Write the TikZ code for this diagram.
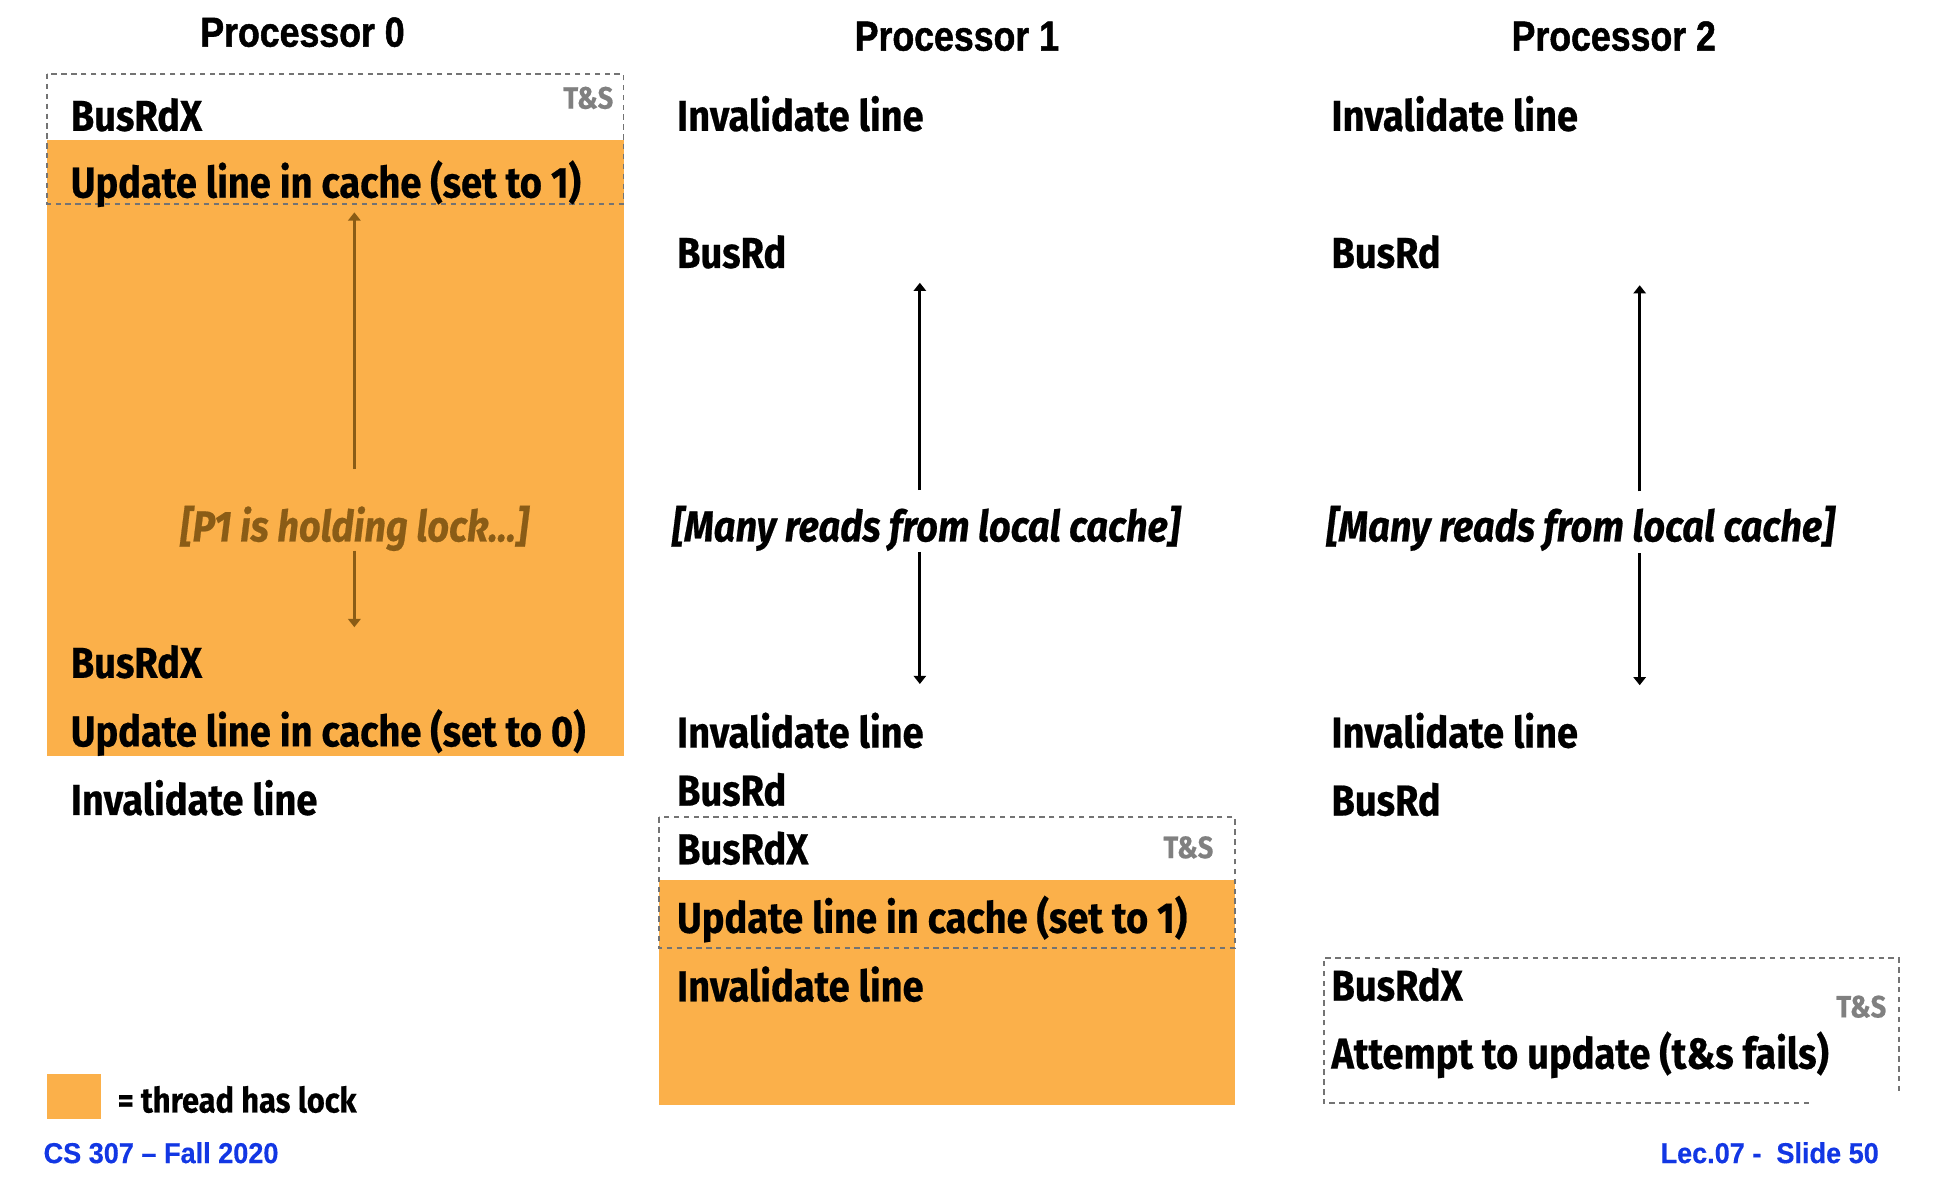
\documentclass[tikz,border=0pt]{standalone}
\usepackage{fontspec}
\setmainfont{Fira Sans}[FakeStretch=0.88, FakeBold=0.5]
\newfontfamily\titlefont{Liberation Sans}[FakeStretch=0.85, FakeBold=1.2]
\newfontfamily\footfont{Liberation Sans}[FakeStretch=0.94, FakeBold=0.4]
\usetikzlibrary{arrows.meta}
\definecolor{lockorange}{RGB}{251,176,74}
\definecolor{lockbrown}{RGB}{138,92,22}
\definecolor{tsgray}{RGB}{128,128,128}
\definecolor{boxgray}{RGB}{115,115,115}
\definecolor{footblue}{RGB}{18,55,228}
\tikzset{
  lbl/.style={anchor=base west, inner sep=0pt, font=\fontsize{21}{21}\selectfont\bfseries},
  itl/.style={anchor=base, inner sep=0pt, font=\fontsize{21}{21}\selectfont\bfseries\itshape},
  tslbl/.style={anchor=base east, inner sep=0pt, text=tsgray, font=\fontsize{15}{15}\selectfont\bfseries},
  ttl/.style={anchor=base, inner sep=0pt, font=\titlefont\fontsize{20.4}{20.4}\selectfont\bfseries},
  foot/.style={inner sep=0pt, text=footblue, font=\footfont\fontsize{14}{14}\selectfont\bfseries},
  tsbox/.style={draw=boxgray, line width=0.9pt, dash pattern=on 2.6pt off 2.2pt},
  lockfill/.style={fill=lockorange, draw=none},
  arr/.style={line width=1.4pt, -{Triangle[length=4pt,width=6pt]}},
}
\begin{document}
\begin{tikzpicture}[x=0.6pt,y=-0.6pt]
\useasboundingbox (0,0) rectangle (1568,960.5);
\fill[white] (0,0) rectangle (1568,960.5);
% titles
\node[ttl] (p0) at (245,37.8) {Processor 0};
\node[ttl] (p1) at (775,41) {Processor 1};
\node[ttl] (p2) at (1307,41) {Processor 2};
% ---------- Processor 0 ----------
\path[lockfill] (38,113) rectangle (505,612);
\draw[tsbox] (38,60) rectangle (505,165);
\node[tslbl] (ts0) at (497,88) {T\&S};
\node[lbl] (a1) at (57,106) {BusRdX};
\node[lbl] (a2) at (57,160) {Update line in cache (set to 1)};
\node[itl, text=lockbrown] (hold) at (287,438.5) {[P1 is holding lock...]};
\coordinate (h0t) at (287,172);
\coordinate (h0a) at (287,380);
\coordinate (h0b) at (287,446);
\coordinate (h0c) at (287,508);
\draw[arr, draw=lockbrown, fill=lockbrown] (h0a) -- (h0t);
\draw[arr, draw=lockbrown, fill=lockbrown] (h0b) -- (h0c);
\node[lbl] (a3) at (57,549) {BusRdX};
\node[lbl] (a4) at (57,604.5) {Update line in cache (set to 0)};
\node[lbl] (a5) at (57,660) {Invalidate line};
% ---------- Processor 1 ----------
\node[lbl] (b1) at (548,106) {Invalidate line};
\node[lbl] (b2) at (548,217) {BusRd};
\node[itl] (many1) at (750,438.5) {[Many reads from local cache]};
\coordinate (m1t) at (745,229);
\coordinate (m1a) at (745,397);
\coordinate (m1b) at (745,447);
\coordinate (m1c) at (745,554);
\draw[arr] (m1a) -- (m1t);
\draw[arr] (m1b) -- (m1c);
\node[lbl] (b3) at (548,605.5) {Invalidate line};
\node[lbl] (b4) at (548,652.5) {BusRd};
\path[lockfill] (534,713) rectangle (1000,895);
\draw[tsbox] (534,662) rectangle (1000,768);
\node[tslbl] (ts1) at (983,695) {T\&S};
\node[lbl] (b5) at (548,700) {BusRdX};
\node[lbl] (b6) at (548,755.5) {Update line in cache (set to 1)};
\node[lbl] (b7) at (548,811) {Invalidate line};
% ---------- Processor 2 ----------
\node[lbl] (c1) at (1078,106) {Invalidate line};
\node[lbl] (c2) at (1078,217) {BusRd};
\node[itl] (many2) at (1280,438.5) {[Many reads from local cache]};
\coordinate (m2t) at (1328,231);
\coordinate (m2a) at (1328,398);
\coordinate (m2b) at (1328,448);
\coordinate (m2c) at (1328,555);
\draw[arr] (m2a) -- (m2t);
\draw[arr] (m2b) -- (m2c);
\node[lbl] (c3) at (1078,605.5) {Invalidate line};
\node[lbl] (c4) at (1078,660.5) {BusRd};
\draw[tsbox] (1465,893.5) -- (1072,893.5) -- (1072,776) -- (1538,776) -- (1538,885);
\node[tslbl] (ts2) at (1528,824) {T\&S};
\node[lbl] (c5) at (1078,810.5) {BusRdX};
\node[lbl] (c6) at (1078,865.5) {Attempt to update (t\&s fails)};
% ---------- legend & footer ----------
\path[lockfill] (38,870) rectangle (82,906);
\node[lbl, font=\fontsize{17}{17}\selectfont\bfseries] (leg) at (95,901) {= thread has lock};
\node[foot, anchor=base west] (f1) at (35,942) {CS 307 – Fall 2020};
\node[foot, anchor=base east] (f2) at (1522,942) {Lec.07 -\ \ Slide 50};
\end{tikzpicture}
\end{document}
